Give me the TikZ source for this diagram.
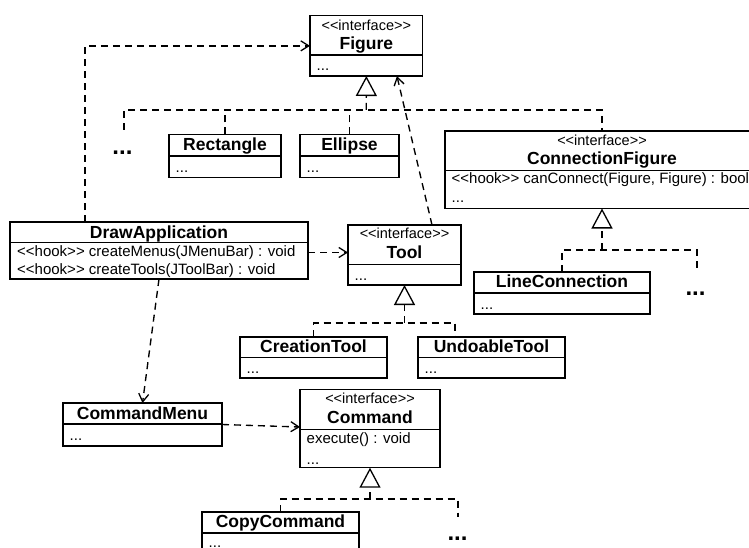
\documentclass[tikz,border=0pt]{standalone}
\usepackage{fontspec}
\setmainfont{Liberation Sans}
\usetikzlibrary{arrows.meta,fit,calc}

% class box: rectangle through two corners plus the compartment divider
\newcommand{\umlclass}[6]{%
  \node[classbox, fit={(#2,#3) (#4,#5)}] (#1) {};
  \draw[divider] (#2,#6) -- (#4,#6);
}
% stereotype text without guillemet ligatures
\newcommand{\umlst}[1]{<\kern0pt<#1>\kern0pt>}

\tikzset{
  classbox/.style={draw, line width=1.4pt, inner sep=0pt, outer sep=0pt},
  divider/.style={line width=1.2pt},
  stereo/.style={anchor=base, inner sep=0pt, font=\fontsize{14.5}{16}\selectfont},
  cname/.style={anchor=base, inner sep=0pt, font=\fontsize{17.5}{20}\selectfont\bfseries},
  member/.style={anchor=base west, inner sep=0pt, font=\fontsize{15}{18}\selectfont},
  more/.style={anchor=center, inner sep=0pt, font=\fontsize{24}{26}\selectfont\bfseries},
  dashline/.style={line width=1.35pt, dash pattern=on 7pt off 5pt},
  dep/.style={dashline, -{Straight Barb[length=8pt,width=10pt,line width=1.3pt]}},
  realize/.style={dashline, -{Triangle[open,length=20pt,width=21pt,line width=1.3pt]}},
}

\begin{document}
\begin{tikzpicture}[x=1pt,y=-1pt]
\clip (0,0) rectangle (749,548);

% ---------- classes ----------
\umlclass{fig}{310}{15.7}{422.7}{76}{55}
\node[stereo] (fig-st) at (366.3,30.5) {\umlst{interface}};
\node[cname]  (fig-n)  at (366.3,50) {Figure};
\node[member] (fig-d)  at (316.5,70.5) {...};

\umlclass{rect}{169}{134.5}{281}{177.3}{156}
\node[cname]  (rect-n) at (225,151) {Rectangle};
\node[member] (rect-d) at (175.5,172.5) {...};

\umlclass{ell}{300}{134.5}{399}{177.3}{156}
\node[cname]  (ell-n) at (349.5,151) {Ellipse};
\node[member] (ell-d) at (306.5,172.5) {...};

\umlclass{cf}{445}{131}{759}{208.5}{170.7}
\node[stereo] (cf-st) at (602,146) {\umlst{interface}};
\node[cname]  (cf-n)  at (602,165) {ConnectionFigure};
\node[member] (cf-m)  at (451.5,184) {\umlst{hook} canConnect(Figure, Figure) : bool};
\node[member] (cf-d)  at (451.5,203) {...};

\umlclass{da}{10}{222}{308}{279}{242.3}
\node[cname]  (da-n)  at (159,238.5) {DrawApplication};
\node[member] (da-m1) at (17,256.5) {\umlst{hook} createMenus(JMenuBar) : void};
\node[member] (da-m2) at (17,274.5) {\umlst{hook} createTools(JToolBar) : void};

\umlclass{tool}{348}{225}{461}{285}{264.5}
\node[stereo] (tool-st) at (404.5,238.5) {\umlst{interface}};
\node[cname]  (tool-n)  at (404.5,258.5) {Tool};
\node[member] (tool-d)  at (354.5,280) {...};

\umlclass{lc}{474}{272}{650}{314}{293}
\node[cname]  (lc-n) at (562,287.5) {LineConnection};
\node[member] (lc-d) at (480.5,309) {...};

\umlclass{ct}{240}{337}{387}{378}{357.5}
\node[cname]  (ct-n) at (313.5,352.5) {CreationTool};
\node[member] (ct-d) at (246.5,373.5) {...};

\umlclass{ut}{418}{337}{565}{378}{357.5}
\node[cname]  (ut-n) at (491.5,352.5) {UndoableTool};
\node[member] (ut-d) at (424.5,373.5) {...};

\umlclass{cm}{63}{403}{222}{446}{424}
\node[cname]  (cm-n) at (142.5,419.5) {CommandMenu};
\node[member] (cm-d) at (69.5,440.5) {...};

\umlclass{cmd}{300}{389.3}{440}{467.7}{429.3}
\node[stereo] (cmd-st) at (370,403.5) {\umlst{interface}};
\node[cname]  (cmd-n)  at (370,423.5) {Command};
\node[member] (cmd-m)  at (306.5,443.5) {execute() : void};
\node[member] (cmd-d)  at (306.5,464) {...};

\umlclass{cc}{202}{512}{359}{560}{533}
\node[cname]  (cc-n) at (280.5,527.5) {CopyCommand};
\node[member] (cc-d) at (208.5,547.5) {...};

% ---------- "more subclasses" markers ----------
\node[more] (fig-more) at (122.5,153) {...};
\node[more] (cf-more)  at (695.5,293.5) {...};
\node[more] (cmd-more) at (457.5,538.5) {...};

% ---------- realizations ----------
\coordinate (figbar)  at (366.3,110);
\coordinate (figleft) at (124,130);
\draw[realize] (figbar) -- (fig.south);
\draw[dashline] (figleft) |- (figbar) -| (cf.north);
\draw[dashline] (rect.north) -- (rect.north |- figbar);
\draw[dashline] (ell.north) -- (ell.north |- figbar);

\coordinate (toolbar) at (404.5,323);
\draw[realize] (toolbar) -- (tool.south);
\draw[dashline] (ct.north) |- (toolbar) -| ([xshift=37pt]ut.north west);

\coordinate (cfbar)   at (602,250);
\coordinate (cfright) at (697,270);
\draw[realize] (cfbar) -- (cf.south);
\draw[dashline] (lc.north) |- (cfbar) -| (cfright);

\coordinate (cmdbar)   at (370,499);
\coordinate (cmdright) at (458,517);
\draw[realize] (cmdbar) -- (cmd.south);
\draw[dashline] (cc.north) |- (cmdbar) -| (cmdright);

% ---------- dependencies ----------
\draw[dep] ([xshift=75pt]da.north west) |- (fig.west);
\draw[dep] ([yshift=-2pt]da.east) -- ([yshift=-2pt]da.east -| tool.west);
\draw[dep] ([xshift=27.5pt]tool.north) -- ([xshift=30.6pt]fig.south);
\draw[dep] (da.south) -- (cm.north);
\draw[dep] (cm.east) -- ([yshift=1.5pt]cmd.west);
\end{tikzpicture}
\end{document}
